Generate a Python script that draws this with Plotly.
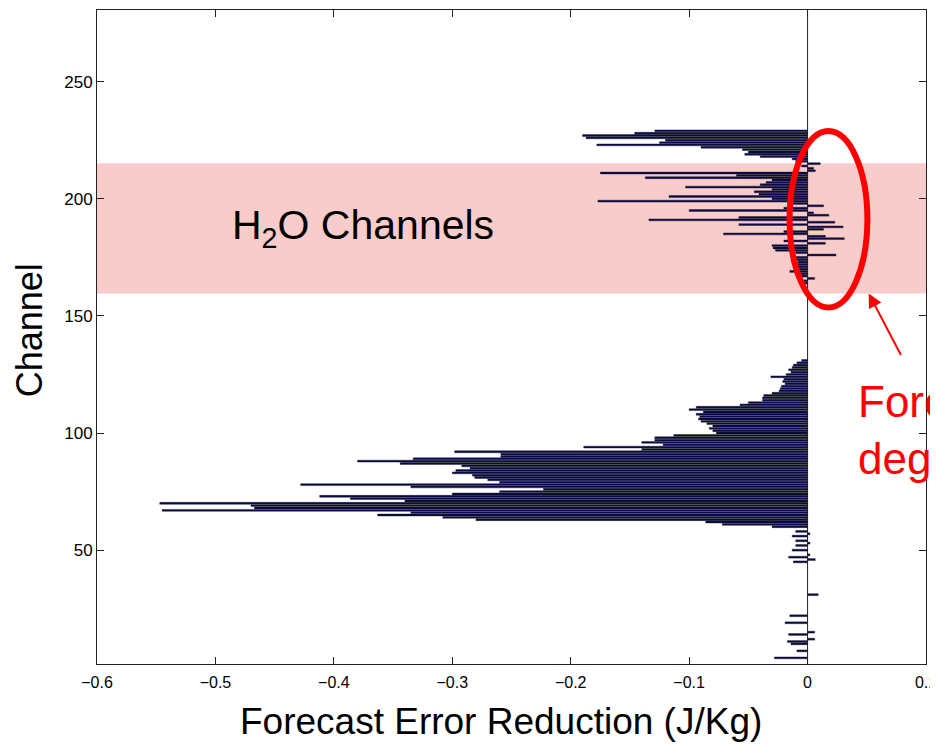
import plotly.graph_objects as go

# Channel numbers with non-zero forecast error reduction (J/Kg)
channels = [
    229, 228, 227, 226, 225, 224, 223, 222, 221, 220, 219, 218, 217, 216,
    215, 214, 213, 212, 211, 210, 209, 208, 207, 206, 205, 204, 203, 202, 201,
    200, 199, 198, 197, 196, 195, 194, 193, 192, 191, 190, 189, 188, 187, 186,
    185, 184, 183, 182, 181, 180, 179, 178, 177, 176, 175, 174, 173, 172, 171,
    170, 169, 168, 167, 166, 165, 164,
    131, 130, 129, 128, 127, 126, 125, 124, 123, 122, 121, 120, 119, 118, 117,
    116, 115, 114, 113, 112, 111, 110, 109, 108, 107, 106, 105, 104, 103, 102,
    101, 100, 99, 98, 97, 96, 95, 94, 93, 92, 91, 90, 89, 88, 87, 86, 85, 84,
    83, 82, 81, 80, 79, 78, 77, 76, 75, 74, 73, 72, 71, 70, 69, 68, 67, 66, 65,
    64, 63, 62, 61, 60, 58, 57, 56, 54, 53, 52, 50, 48, 47, 46, 45,
    31, 22, 19, 15, 14, 12, 11, 10, 7, 4,
]
reduction = [
    -0.129, -0.146, -0.190, -0.187, -0.120, -0.125, -0.178, -0.090, -0.055, -0.050, -0.053, -0.040, -0.013, -0.010,
    0.0107, -0.005, 0.005, 0.0065, -0.175, -0.060, -0.137, -0.030, -0.035, -0.040, -0.103, -0.030, -0.045, -0.041, -0.117,
    -0.030, -0.177, -0.015, 0.0135, -0.020, -0.100, 0.005, 0.018, -0.058, -0.134, 0.023, -0.058, 0.030, 0.0135, -0.020,
    -0.071, 0.015, 0.031, -0.020, 0.015, -0.030, -0.029, -0.027, -0.010, 0.024, -0.010, -0.012, -0.008, -0.010, -0.008,
    -0.007, -0.015, -0.010, -0.008, 0.006, -0.005, -0.003,
    -0.005, -0.009, -0.012, -0.013, -0.016, -0.014, -0.018, -0.031, -0.020, -0.021, -0.019, -0.022, -0.023, -0.024, -0.030,
    -0.037, -0.038, -0.038, -0.050, -0.057, -0.094, -0.100, -0.088, -0.094, -0.091, -0.092, -0.090, -0.085, -0.080, -0.083,
    -0.080, -0.077, -0.113, -0.129, -0.129, -0.140, -0.122, -0.189, -0.140, -0.298, -0.259, -0.259, -0.333, -0.380, -0.344, -0.292, -0.285, -0.297,
    -0.300, -0.283, -0.281, -0.270, -0.260, -0.428, -0.335, -0.223, -0.260, -0.300, -0.412, -0.386, -0.340, -0.547, -0.470, -0.467, -0.545, -0.335, -0.363,
    -0.308, -0.280, -0.086, -0.072, -0.030, -0.010, 0.002, -0.013, -0.010, 0.002, -0.010, -0.013, 0.002, -0.016, 0.0065, -0.012,
    0.009, -0.015, -0.019, 0.006, -0.016, 0.006, -0.017, -0.014, -0.009, -0.028,
]

x_ticks = [-0.6, -0.5, -0.4, -0.3, -0.2, -0.1, 0, 0.1]
x_tick_labels = ["\u22120.6", "\u22120.5", "\u22120.4", "\u22120.3", "\u22120.2", "\u22120.1", "0", "0.1"]
y_ticks = [50, 100, 150, 200, 250]
h2o_band = [159.6, 215.2]

fig = go.Figure()
fig.add_trace(go.Bar(
    x=reduction, y=channels, orientation="h",
    marker=dict(color="#0a0a4e", line=dict(color="#111111", width=0.4)),
    showlegend=False,
))

font = "Arial, 'Liberation Sans', Helvetica, sans-serif"

fig.update_layout(
    width=930, height=736,
    paper_bgcolor="white", plot_bgcolor="white",
    margin=dict(l=89, r=10, t=1, b=80),
    bargap=0.2,
    font=dict(family=font, color="black"),
    xaxis=dict(range=[-0.6, 0.1], tickvals=x_ticks, ticktext=x_tick_labels,
               ticks="inside", ticklen=7, tickcolor="#222", showline=True,
               linecolor="#222", linewidth=1, mirror="ticks", showgrid=False,
               zeroline=False, tickfont=dict(size=16),
               ticklabeloverflow="allow", ticklabelstandoff=4),
    yaxis=dict(range=[1.4, 280.6], tickvals=y_ticks,
               ticks="inside", ticklen=7, tickcolor="#222", showline=True,
               linecolor="#222", linewidth=1, mirror="ticks", showgrid=False,
               zeroline=False, tickfont=dict(size=17)),
    shapes=[
        dict(type="rect", xref="paper", yref="y", x0=0, x1=1,
             y0=h2o_band[0], y1=h2o_band[1], fillcolor="#f9cccc",
             line=dict(width=0), layer="below"),
        dict(type="line", xref="x", yref="paper", x0=0, x1=0, y0=0, y1=1,
             line=dict(color="#222", width=1)),
        dict(type="circle", xref="x", yref="y", x0=-0.0152, x1=0.0505,
             y0=153.6, y1=228.9, line=dict(color="#ff0000", width=6)),
    ],
    annotations=[
        dict(xref="paper", yref="paper", x=0.487, y=-0.0885,
             text="Forecast Error Reduction (J/Kg)", showarrow=False,
             font=dict(size=37), xanchor="center", yanchor="middle"),
        dict(xref="paper", yref="paper", x=-0.081, y=0.51, text="Channel",
             textangle=-90, showarrow=False, font=dict(size=36),
             xanchor="center", yanchor="middle"),
        dict(xref="x", yref="y", x=-0.375, y=187.7,
             text="H<sub>2</sub>O Channels", showarrow=False,
             font=dict(size=41), xanchor="center", yanchor="middle"),
        dict(xref="x", yref="y", x=0.0516, y=159.6, text="", showarrow=True,
             ax=33, ay=63, arrowhead=2, arrowsize=1.4, arrowwidth=2,
             arrowcolor="#ff0000"),
        dict(xref="paper", yref="paper", x=0.9158, y=(664 - 430) / 655,
             text="Forecast<br>degradation", showarrow=False, align="left",
             font=dict(size=44, color="#ff0000"), xanchor="left",
             yanchor="middle"),
    ],
)

fig.write_html("out.html")
